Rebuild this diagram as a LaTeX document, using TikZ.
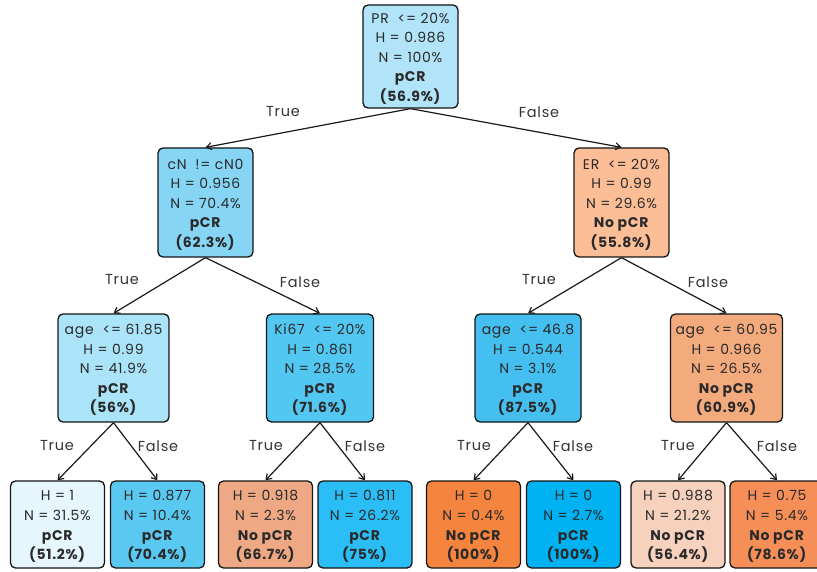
\documentclass[tikz,border=0pt]{standalone}
\usepackage{fontspec}
\setmainfont{Poppins}[LetterSpace=5]
\usetikzlibrary{arrows.meta}
\definecolor{c0}{HTML}{B1E4F8}
\definecolor{c1}{HTML}{86D5F5}
\definecolor{c2}{HTML}{FBBE96}
\definecolor{c3}{HTML}{ABE3F8}
\definecolor{c4}{HTML}{52C7F2}
\definecolor{c5}{HTML}{44BFEF}
\definecolor{c6}{HTML}{F3AB7E}
\definecolor{l1}{HTML}{E6F6FD}
\definecolor{l2}{HTML}{5AC9F2}
\definecolor{l3}{HTML}{EEA984}
\definecolor{l4}{HTML}{2BBEF6}
\definecolor{l5}{HTML}{F5843F}
\definecolor{l6}{HTML}{00B2F2}
\definecolor{l7}{HTML}{F6D1BD}
\definecolor{l8}{HTML}{F68F57}
\definecolor{txt}{HTML}{2A2A2A}
\newcommand{\toppad}{\rule{0pt}{14.5pt}}
\tikzset{
  treebox/.style={draw=black!92, line width=1.3pt, rounded corners=5pt, align=center,
    font=\fontsize{14}{19.6}\selectfont, text=txt, inner sep=0pt},
  leafbox/.style={treebox, minimum width=94pt, minimum height=87pt},
  edge/.style={line width=1.2pt, draw=black!90, -{Straight Barb[length=5pt,width=7pt]}},
  elabel/.style={font=\fontsize{14.5}{16}\selectfont, text=black!80, inner sep=0pt}
}
\begin{document}
\begin{tikzpicture}[x=1pt,y=-1pt]
\useasboundingbox (0,0) rectangle (817,572);
% root
\node[treebox, fill=c0, minimum width=95pt, minimum height=103pt] (root) at (410.5,56.5)
  {\toppad PR~~<= 20\%\\H = 0.986\\N = 100\%\\\textbf{pCR}\\\textbf{(56.9\%)}};
% level 1
\node[treebox, fill=c1, minimum width=95pt, minimum height=109pt] (cn) at (205.5,202.5)
  {\toppad cN~~!= cN0\\H = 0.956\\N = 70.4\%\\\textbf{pCR}\\\textbf{(62.3\%)}};
\node[treebox, fill=c2, minimum width=95pt, minimum height=109pt] (er) at (621.5,202.5)
  {\toppad ER~~<= 20\%\\H = 0.99\\N = 29.6\%\\\textbf{No pCR}\\\textbf{(55.8\%)}};
% level 2
\node[treebox, fill=c3, minimum width=111pt, minimum height=108pt] (ageA) at (113.5,368)
  {\toppad age~~<= 61.85\\H = 0.99\\N = 41.9\%\\\textbf{pCR}\\\textbf{(56\%)}};
\node[treebox, fill=c4, minimum width=107pt, minimum height=108pt] (ki) at (320,368)
  {\toppad Ki67~~<= 20\%\\H = 0.861\\N = 28.5\%\\\textbf{pCR}\\\textbf{(71.6\%)}};
\node[treebox, fill=c5, minimum width=106pt, minimum height=108pt] (ageB) at (528,368)
  {\toppad age~~<= 46.8\\H = 0.544\\N = 3.1\%\\\textbf{pCR}\\\textbf{(87.5\%)}};
\node[treebox, fill=c6, minimum width=112pt, minimum height=108pt] (ageC) at (726.5,368)
  {\toppad age~~<= 60.95\\H = 0.966\\N = 26.5\%\\\textbf{No pCR}\\\textbf{(60.9\%)}};
% leaves
\node[leafbox, fill=l1] (f1) at (57.5,524.5) {\toppad H = 1\\N = 31.5\%\\\textbf{pCR}\\\textbf{(51.2\%)}};
\node[leafbox, fill=l2] (f2) at (157.5,524.5) {\toppad H = 0.877\\N = 10.4\%\\\textbf{pCR}\\\textbf{(70.4\%)}};
\node[leafbox, fill=l3] (f3) at (265.5,524.5) {\toppad H = 0.918\\N = 2.3\%\\\textbf{No pCR}\\\textbf{(66.7\%)}};
\node[leafbox, fill=l4] (f4) at (365,524.5) {\toppad H = 0.811\\N = 26.2\%\\\textbf{pCR}\\\textbf{(75\%)}};
\node[leafbox, fill=l5] (f5) at (473.5,524.5) {\toppad H = 0\\N = 0.4\%\\\textbf{No pCR}\\\textbf{(100\%)}};
\node[leafbox, fill=l6] (f6) at (573.5,524.5) {\toppad H = 0\\N = 2.7\%\\\textbf{pCR}\\\textbf{(100\%)}};
\node[leafbox, fill=l7] (f7) at (678,524.5) {\toppad H = 0.988\\N = 21.2\%\\\textbf{No pCR}\\\textbf{(56.4\%)}};
\node[leafbox, fill=l8] (f8) at (777,524.5) {\toppad H = 0.75\\N = 5.4\%\\\textbf{No pCR}\\\textbf{(78.6\%)}};
% edges
\draw[edge] (root.south) -- (cn.north);
\draw[edge] (root.south) -- (er.north);
\draw[edge] (cn.south) -- (ageA.north);
\draw[edge] (cn.south) -- (ki.north);
\draw[edge] (er.south) -- (ageB.north);
\draw[edge] (er.south) -- (ageC.north);
\draw[edge] (ageA.south) -- (f1.north);
\draw[edge] (ageA.south) -- (f2.north);
\draw[edge] (ki.south) -- (f3.north);
\draw[edge] (ki.south) -- (f4.north);
\draw[edge] (ageB.south) -- (f5.north);
\draw[edge] (ageB.south) -- (f6.north);
\draw[edge] (ageC.south) -- (f7.north);
\draw[edge] (ageC.south) -- (f8.north);
% edge labels
\node[elabel] (t0) at (283,112) {True};
\node[elabel] (e0) at (539,112) {False};
\node[elabel] (t1) at (122,280) {True};
\node[elabel] (e1) at (300,282) {False};
\node[elabel] (t2) at (539,280) {True};
\node[elabel] (e2) at (708,282) {False};
\node[elabel] (t3) at (57,446) {True};
\node[elabel] (e3) at (158,446) {False};
\node[elabel] (t4) at (266,446) {True};
\node[elabel] (e4) at (365,446) {False};
\node[elabel] (t5) at (474,446) {True};
\node[elabel] (e5) at (573,446) {False};
\node[elabel] (t6) at (678,446) {True};
\node[elabel] (e6) at (777,446) {False};
\end{tikzpicture}
\end{document}
